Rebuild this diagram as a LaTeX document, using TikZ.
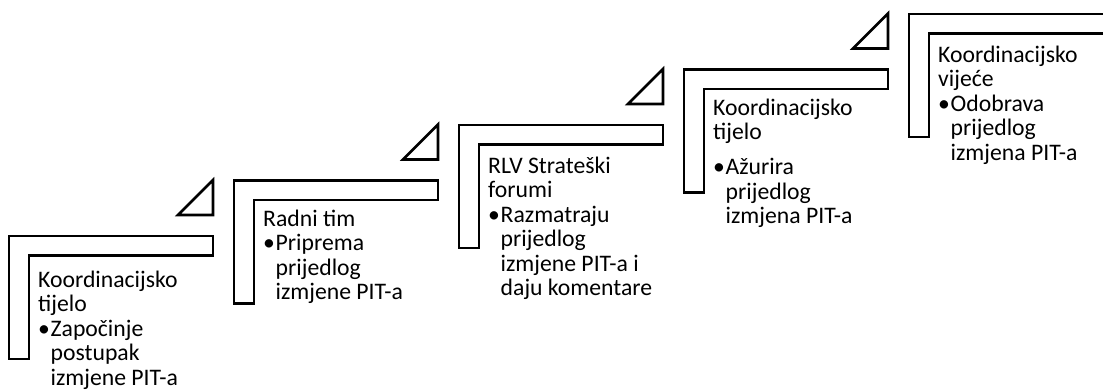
\documentclass[tikz,border=0pt]{standalone}
\usepackage{fontspec}
\setmainfont{Carlito}
\newcommand{\bul}{\makebox[12.5pt][l]{•}}
\newcommand{\hng}{\hspace*{12.5pt}}
\begin{document}
\begin{tikzpicture}[x=1pt,y=-1pt,
  stepshape/.style={draw=black,line width=2.6pt,fill=white,line join=miter},
  txt/.style={anchor=base west,inner sep=0pt,font=\fontsize{23.7}{24.5}\selectfont,text=black}]
\useasboundingbox (0,0) rectangle (1103,391);
\clip (0,0) rectangle (1103,391);
\foreach \i in {0,...,4}{
  \pgfmathsetmacro{\X}{9+225*\i}
  \pgfmathsetmacro{\Y}{236-55.5*\i}
  \draw[stepshape] (\X,\Y) -- ++(204,0) -- ++(0,19.5) -- ++(-184,0) -- ++(0,103.5) -- ++(-20,0) -- cycle;
}
\foreach \i in {0,...,3}{
  \pgfmathsetmacro{\X}{9+225*\i}
  \pgfmathsetmacro{\Y}{236-55.5*\i}
  \draw[stepshape] (\X+169,\Y-21) -- (\X+204,\Y-21) -- (\X+204,\Y-56) -- cycle;
}
\node[txt] (t1) at (38,287) {\parbox[t]{190pt}{Koordinacijsko\\tijelo\\\bul Započinje\\\hng postupak\\\hng izmjene PIT-a}};
\node[txt] (t2) at (263,226) {\parbox[t]{190pt}{Radni tim\\\bul Priprema\\\hng prijedlog\\\hng izmjene PIT-a}};
\node[txt] (t3) at (488,173) {\parbox[t]{190pt}{RLV Strateški\\forumi\\\bul Razmatraju\\\hng prijedlog\\\hng izmjene PIT-a i\\\hng daju komentare}};
\node[txt] (t4) at (713,115) {\parbox[t]{190pt}{Koordinacijsko\\tijelo\\[10.5pt]\bul Ažurira\\\hng prijedlog\\\hng izmjena PIT-a}};
\node[txt] (t5) at (938,62) {\parbox[t]{160pt}{Koordinacijsko\\vijeće\\\bul Odobrava\\\hng prijedlog\\\hng izmjena PIT-a}};
\end{tikzpicture}
\end{document}
